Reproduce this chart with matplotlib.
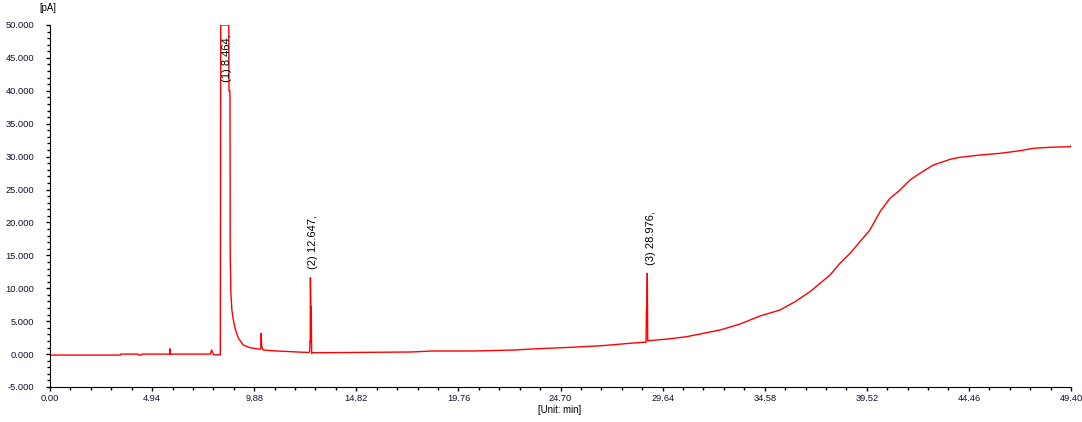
import numpy as np
import matplotlib
matplotlib.use('Agg')
import matplotlib.pyplot as plt
from matplotlib.ticker import MultipleLocator, FixedLocator

plt.rcParams['font.family'] = ['Liberation Sans', 'DejaVu Sans']

# trace (time in min, signal in pA)
t = [0.00, 3.40, 3.42, 4.26, 4.28, 4.43, 4.45, 5.79, 5.80, 5.81, 7.76, 7.82, 7.86, 7.92, 8.24,
     8.26, 8.65, 8.66, 8.70, 8.71, 8.72, 8.75, 8.80, 8.87, 8.95, 9.11, 9.35, 9.68, 10.16,
     10.20, 10.22, 10.24, 10.31, 10.97, 12.10, 12.52, 12.56, 12.58, 12.59, 12.60, 12.62,
     12.64, 12.66, 12.70, 13.50, 17.50, 18.50, 20.50, 22.50, 23.30, 25.20, 26.70, 28.06,
     28.70, 28.84, 28.86, 28.88, 28.90, 28.92, 28.95, 29.90, 30.80, 31.45, 32.42, 33.39,
     34.35, 35.32, 36.05, 36.77, 37.26, 37.74, 38.22, 38.71, 39.19, 39.67, 40.16, 40.64,
     41.13, 41.61, 42.09, 42.74, 43.55, 44.03, 45.00, 45.96, 46.93, 47.58, 48.38, 49.35, 49.40]
pa = [-150, -150, 0, 0, -150, -150, 0, 0, 800, 0, 0, 620, 300, -100, -100,
      50000, 50000, 40000, 40000, 38800, 15000, 9400, 6700, 5180, 3960, 2445, 1380, 970, 730,
      800, 3160, 1200, 620, 470, 300, 250, 350, 1880, 1880, 11600, 7200,
      7200, 100, 220, 220, 320, 470, 470, 620, 775, 1030, 1275, 1640,
      1790, 1790, 7110, 7110, 12275, 2030, 2034, 2293, 2642, 3052, 3660, 4572,
      5787, 6699, 7960, 9480, 10755, 12016, 13793, 15313, 17074, 18853, 21633, 23670,
      24930, 26450, 27470, 28730, 29590, 29900, 30250, 30500, 30900, 31265, 31420, 31510, 31660]

peak_names = ['(1) 8.464,', '(2) 12.647,', '(3) 28.976,']
peak_x = [8.55, 12.72, 29.06]
peak_y = [41300, 12900, 13500]

xticks = [0.00, 4.94, 9.88, 14.82, 19.76, 24.70, 29.64, 34.58, 39.52, 44.46, 49.40]
yticks = [-5000, 0, 5000, 10000, 15000, 20000, 25000, 30000, 35000, 40000, 45000, 50000]

fig = plt.figure(figsize=(10.82, 4.22), dpi=100)
ax = fig.add_axes([50/1082, 35/422, 1021/1082, 362/422])

ax.plot(t, pa, color='red', lw=1.0)

for name, x, y in zip(peak_names, peak_x, peak_y):
    ax.text(x, y, name, rotation=90, ha='center', va='bottom', fontsize=8, color='black')

ax.set_xlim(0, 49.40)
ax.set_ylim(-5000, 50000)
ax.spines['top'].set_visible(False)
ax.spines['right'].set_visible(False)

ax.xaxis.set_major_locator(FixedLocator(xticks))
ax.xaxis.set_minor_locator(MultipleLocator(0.988))
ax.yaxis.set_major_locator(FixedLocator(yticks))
ax.yaxis.set_minor_locator(MultipleLocator(1000))
ax.set_xticklabels(['%.2f' % v for v in xticks])
ax.set_yticklabels([('{:,}'.format(v)).replace(',', '.') + ('.000' if v == 0 else '') for v in yticks])

ax.tick_params(which='major', length=3, width=1, labelsize=6.7, colors='black')
ax.tick_params(which='minor', length=2, width=1)
ax.tick_params(axis='y', labelcolor='#101030', pad=8.5)
ax.tick_params(axis='x', labelcolor='#101030', pad=2)

fig.text(560/1082, 1 - 410/422, '[Unit: min]', ha='center', va='center', fontsize=6.9)
fig.text(48/1082, 1 - 8/422, '[pA]', ha='center', va='center', fontsize=6.9)

fig.savefig('out.png', dpi=100)
